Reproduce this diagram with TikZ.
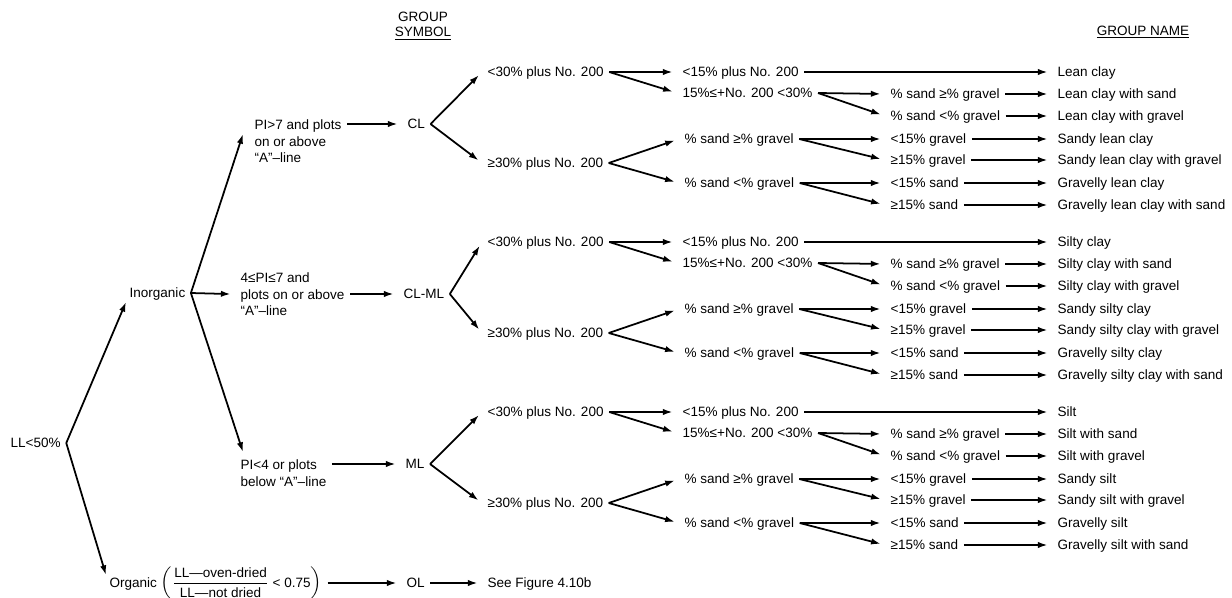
\documentclass[tikz,border=0pt]{standalone}
\usepackage{amsmath}
\usepackage{fontspec}
\setmainfont{Liberation Sans}
\usetikzlibrary{arrows.meta}

\begin{document}
\begin{tikzpicture}[
    x=0.02cm, y=-0.02cm,
    every node/.style={font=\fontsize{7.7}{9.6}\selectfont},
    cond/.style={anchor=west, inner xsep=3pt, inner ysep=0pt, text height=6.2pt, text depth=0.8pt},
    cond multi/.style={anchor=north west, align=left, inner xsep=3pt, inner ysep=0pt},
    header/.style={align=center, inner sep=0pt},
    arrow/.style={-{Latex[length=5.5pt,width=3.6pt]}, line width=1pt, shorten >=2.5pt},
    fork/.style={arrow, shorten >=0pt}
]
\useasboundingbox (0,0) rectangle (1232,598);

% Headers
\node[header] (hsym) at (423,26) {GROUP\\[-1pt]\underline{SYMBOL}};
\node[header] (hname) at (1143,32) {\underline{GROUP NAME}};

% Liquid limit and organic / inorganic
\node[cond] (ll) at (5,443) {LL<50\%};
\node[cond] (inorg) at (124,293) {Inorganic};
\node[anchor=base west, inner xsep=3pt, inner ysep=0pt] (org) at (104,587)
    {Organic $\left(\dfrac{\text{LL—oven-dried}}{\text{LL—not dried}}\text{ < 0.75}\right)$};

\draw[fork] (ll.east) -- ([shift={(2,9)}]inorg.west);
\draw[fork] (ll.east) -- ([shift={(2,-12)}]org.base west);

% Plasticity
\node[cond multi] (pi1) at (249,119) {PI>7 and plots\\on or above\\“A”–line};
\node[cond multi] (pi2) at (235,272) {4≤PI≤7 and\\plots on or above\\“A”–line};
\node[cond multi] (pi3) at (235,459) {PI<4 or plots\\below “A”–line};

\draw[fork] (inorg.east) -- ([shift={(-6,15)}]pi1.north west);
\draw[arrow] (inorg.east) -- (pi2.west);
\draw[fork] (inorg.east) -- ([shift={(8,-7)}]pi3.north west);

% Group symbols
\node[cond] (cl) at (402,124) {CL};
\node[cond] (clml) at (398,294) {CL-ML};
\node[cond] (ml) at (400,464) {ML};
\node[cond] (ol) at (401,583) {OL};
\node[cond] (fig) at (482,583) {See Figure 4.10b};

\draw[arrow] (pi1.east |- cl.west) -- (cl.west);
\draw[arrow] (pi2.east |- clml.west) -- (clml.west);
\draw[arrow] (pi3.east |- ml.west) -- (ml.west);
\draw[arrow] (org.east |- ol.west) -- (ol.west);
\draw[arrow] (ol.east) -- (fig.west);

% CL block
\node[cond] (cl-lt30) at (482,72) {<30\% plus No. 200};
\node[cond] (cl-ge30) at (482,163) {≥30\% plus No. 200};
\node[cond] (cl-lt15) at (677,72) {<15\% plus No. 200};
\node[cond] (cl-mid) at (677,93) {15\%≤+No. 200 <30\%};
\node[cond] (cl-sg) at (679,139) {\% sand ≥\% gravel};
\node[cond] (cl-sl) at (679,183) {\% sand <\% gravel};
\node[cond] (cl-sg2) at (885,94) {\% sand ≥\% gravel};
\node[cond] (cl-sl2) at (885,116) {\% sand <\% gravel};
\node[cond] (cl-g1) at (885,139) {<15\% gravel};
\node[cond] (cl-g2) at (885,160) {≥15\% gravel};
\node[cond] (cl-s1) at (885,183) {<15\% sand};
\node[cond] (cl-s2) at (885,205) {≥15\% sand};
\node[cond] (cl-n1) at (1052,72) {Lean clay};
\node[cond] (cl-n2) at (1052,94) {Lean clay with sand};
\node[cond] (cl-n3) at (1052,116) {Lean clay with gravel};
\node[cond] (cl-n4) at (1052,139) {Sandy lean clay};
\node[cond] (cl-n5) at (1052,160) {Sandy lean clay with gravel};
\node[cond] (cl-n6) at (1052,183) {Gravelly lean clay};
\node[cond] (cl-n7) at (1052,205) {Gravelly lean clay with sand};

\draw[arrow] (cl.east) -- (cl-lt30.west);
\draw[arrow] (cl.east) -- (cl-ge30.west);
\draw[arrow] (cl-lt30.east) -- (cl-lt15.west);
\draw[arrow] (cl-lt30.east) -- (cl-mid.west);
\draw[arrow] (cl-ge30.east) -- (cl-sg.west);
\draw[arrow] (cl-ge30.east) -- (cl-sl.west);
\draw[arrow] (cl-lt15.east) -- (cl-n1.west);
\draw[arrow] (cl-mid.east) -- (cl-sg2.west);
\draw[arrow] (cl-mid.east) -- (cl-sl2.west);
\draw[arrow] (cl-sg2.east) -- (cl-n2.west);
\draw[arrow] (cl-sl2.east) -- (cl-n3.west);
\draw[arrow] (cl-sg.east) -- (cl-g1.west);
\draw[arrow] (cl-sg.east) -- (cl-g2.west);
\draw[arrow] (cl-g1.east) -- (cl-n4.west);
\draw[arrow] (cl-g2.east) -- (cl-n5.west);
\draw[arrow] (cl-sl.east) -- (cl-s1.west);
\draw[arrow] (cl-sl.east) -- (cl-s2.west);
\draw[arrow] (cl-s1.east) -- (cl-n6.west);
\draw[arrow] (cl-s2.east) -- (cl-n7.west);

% CL-ML block
\node[cond] (clml-lt30) at (482,242) {<30\% plus No. 200};
\node[cond] (clml-ge30) at (482,333) {≥30\% plus No. 200};
\node[cond] (clml-lt15) at (677,242) {<15\% plus No. 200};
\node[cond] (clml-mid) at (677,263) {15\%≤+No. 200 <30\%};
\node[cond] (clml-sg) at (679,309) {\% sand ≥\% gravel};
\node[cond] (clml-sl) at (679,353) {\% sand <\% gravel};
\node[cond] (clml-sg2) at (885,264) {\% sand ≥\% gravel};
\node[cond] (clml-sl2) at (885,286) {\% sand <\% gravel};
\node[cond] (clml-g1) at (885,309) {<15\% gravel};
\node[cond] (clml-g2) at (885,330) {≥15\% gravel};
\node[cond] (clml-s1) at (885,353) {<15\% sand};
\node[cond] (clml-s2) at (885,375) {≥15\% sand};
\node[cond] (clml-n1) at (1052,242) {Silty clay};
\node[cond] (clml-n2) at (1052,264) {Silty clay with sand};
\node[cond] (clml-n3) at (1052,286) {Silty clay with gravel};
\node[cond] (clml-n4) at (1052,309) {Sandy silty clay};
\node[cond] (clml-n5) at (1052,330) {Sandy silty clay with gravel};
\node[cond] (clml-n6) at (1052,353) {Gravelly silty clay};
\node[cond] (clml-n7) at (1052,375) {Gravelly silty clay with sand};

\draw[arrow] (clml.east) -- (clml-lt30.west);
\draw[arrow] (clml.east) -- (clml-ge30.west);
\draw[arrow] (clml-lt30.east) -- (clml-lt15.west);
\draw[arrow] (clml-lt30.east) -- (clml-mid.west);
\draw[arrow] (clml-ge30.east) -- (clml-sg.west);
\draw[arrow] (clml-ge30.east) -- (clml-sl.west);
\draw[arrow] (clml-lt15.east) -- (clml-n1.west);
\draw[arrow] (clml-mid.east) -- (clml-sg2.west);
\draw[arrow] (clml-mid.east) -- (clml-sl2.west);
\draw[arrow] (clml-sg2.east) -- (clml-n2.west);
\draw[arrow] (clml-sl2.east) -- (clml-n3.west);
\draw[arrow] (clml-sg.east) -- (clml-g1.west);
\draw[arrow] (clml-sg.east) -- (clml-g2.west);
\draw[arrow] (clml-g1.east) -- (clml-n4.west);
\draw[arrow] (clml-g2.east) -- (clml-n5.west);
\draw[arrow] (clml-sl.east) -- (clml-s1.west);
\draw[arrow] (clml-sl.east) -- (clml-s2.west);
\draw[arrow] (clml-s1.east) -- (clml-n6.west);
\draw[arrow] (clml-s2.east) -- (clml-n7.west);

% ML block
\node[cond] (ml-lt30) at (482,412) {<30\% plus No. 200};
\node[cond] (ml-ge30) at (482,503) {≥30\% plus No. 200};
\node[cond] (ml-lt15) at (677,412) {<15\% plus No. 200};
\node[cond] (ml-mid) at (677,433) {15\%≤+No. 200 <30\%};
\node[cond] (ml-sg) at (679,479) {\% sand ≥\% gravel};
\node[cond] (ml-sl) at (679,523) {\% sand <\% gravel};
\node[cond] (ml-sg2) at (885,434) {\% sand ≥\% gravel};
\node[cond] (ml-sl2) at (885,456) {\% sand <\% gravel};
\node[cond] (ml-g1) at (885,479) {<15\% gravel};
\node[cond] (ml-g2) at (885,500) {≥15\% gravel};
\node[cond] (ml-s1) at (885,523) {<15\% sand};
\node[cond] (ml-s2) at (885,545) {≥15\% sand};
\node[cond] (ml-n1) at (1052,412) {Silt};
\node[cond] (ml-n2) at (1052,434) {Silt with sand};
\node[cond] (ml-n3) at (1052,456) {Silt with gravel};
\node[cond] (ml-n4) at (1052,479) {Sandy silt};
\node[cond] (ml-n5) at (1052,500) {Sandy silt with gravel};
\node[cond] (ml-n6) at (1052,523) {Gravelly silt};
\node[cond] (ml-n7) at (1052,545) {Gravelly silt with sand};

\draw[arrow] (ml.east) -- (ml-lt30.west);
\draw[arrow] (ml.east) -- (ml-ge30.west);
\draw[arrow] (ml-lt30.east) -- (ml-lt15.west);
\draw[arrow] (ml-lt30.east) -- (ml-mid.west);
\draw[arrow] (ml-ge30.east) -- (ml-sg.west);
\draw[arrow] (ml-ge30.east) -- (ml-sl.west);
\draw[arrow] (ml-lt15.east) -- (ml-n1.west);
\draw[arrow] (ml-mid.east) -- (ml-sg2.west);
\draw[arrow] (ml-mid.east) -- (ml-sl2.west);
\draw[arrow] (ml-sg2.east) -- (ml-n2.west);
\draw[arrow] (ml-sl2.east) -- (ml-n3.west);
\draw[arrow] (ml-sg.east) -- (ml-g1.west);
\draw[arrow] (ml-sg.east) -- (ml-g2.west);
\draw[arrow] (ml-g1.east) -- (ml-n4.west);
\draw[arrow] (ml-g2.east) -- (ml-n5.west);
\draw[arrow] (ml-sl.east) -- (ml-s1.west);
\draw[arrow] (ml-sl.east) -- (ml-s2.west);
\draw[arrow] (ml-s1.east) -- (ml-n6.west);
\draw[arrow] (ml-s2.east) -- (ml-n7.west);

\end{tikzpicture}
\end{document}
